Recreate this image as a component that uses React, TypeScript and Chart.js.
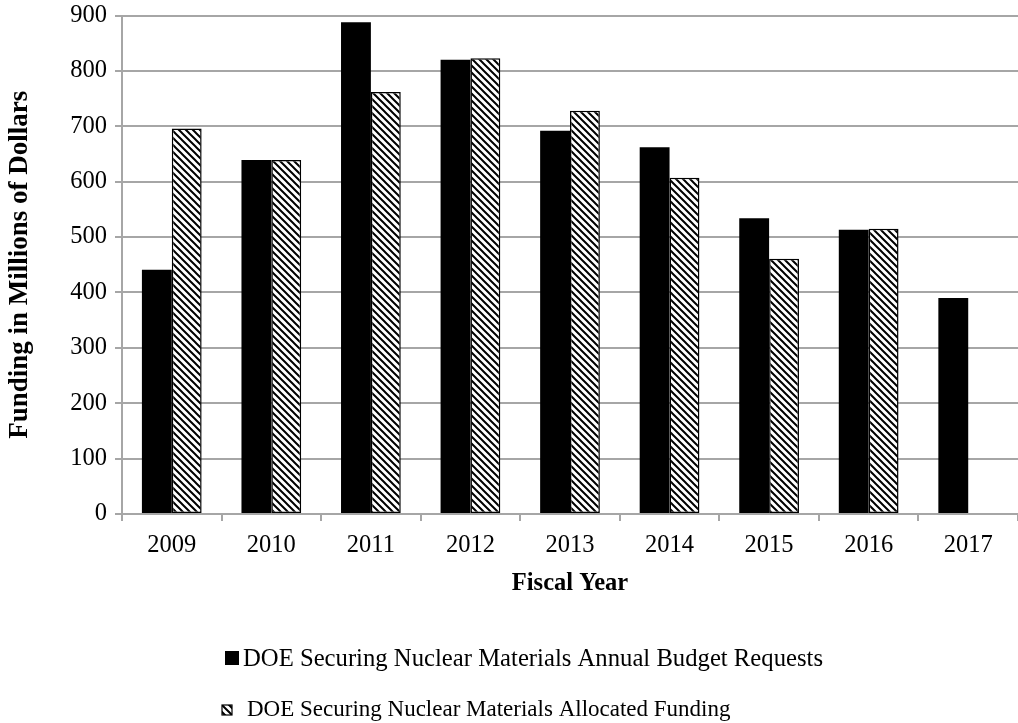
import React, { useEffect, useRef } from 'react';
import { Chart, registerables } from 'chart.js';

Chart.register(...registerables);

const years = ['2009', '2010', '2011', '2012', '2013', '2014', '2015', '2016', '2017'];
const budgetRequests = [441, 639, 888, 820, 692, 662, 534, 513, 390];
const allocatedFunding: (number | null)[] = [696, 639, 762, 823, 728, 607, 461, 515, null];
const requestsLabel = 'DOE Securing Nuclear Materials Annual Budget Requests';
const allocatedLabel = 'DOE Securing Nuclear Materials Allocated Funding';
const yMin = 0;
const yMax = 900;
const yStep = 100;

const SERIF = "'Liberation Serif', 'Times New Roman', serif";
const GRID = '#a6a6a6';

function makeHatch(): CanvasPattern | string {
  const p = 7;
  const c = document.createElement('canvas');
  c.width = p;
  c.height = p;
  const ctx = c.getContext('2d');
  if (!ctx) return '#888';
  ctx.fillStyle = '#fff';
  ctx.fillRect(0, 0, p, p);
  ctx.strokeStyle = '#000';
  ctx.lineWidth = 2;
  ctx.beginPath();
  ctx.moveTo(-1, -1);
  ctx.lineTo(p + 1, p + 1);
  ctx.moveTo(-1, p - 1);
  ctx.lineTo(1, p + 1);
  ctx.moveTo(p - 1, -1);
  ctx.lineTo(p + 1, 1);
  ctx.stroke();
  const pat = ctx.createPattern(c, 'repeat');
  return pat || '#888';
}

export default function App() {
  const ref = useRef<HTMLCanvasElement | null>(null);

  useEffect(() => {
    document.body.style.margin = '0';
    const canvas = ref.current;
    if (!canvas) return;
    const hatch = makeHatch();

    const legendPlugin = {
      id: 'customLegend',
      afterDraw(chart: any) {
        const ctx = chart.ctx as CanvasRenderingContext2D;
        const ds = chart.data.datasets;
        ctx.save();
        ctx.textBaseline = 'middle';
        ctx.textAlign = 'left';
        // row 1
        ctx.font = `24.7px ${SERIF}`;
        ctx.fillStyle = '#000';
        ctx.fillRect(225, 651, 14, 14);
        ctx.fillText(ds[0].label, 243, 660);
        // row 2
        ctx.fillStyle = hatch as any;
        ctx.fillRect(222, 705, 10, 10);
        ctx.strokeStyle = '#000';
        ctx.lineWidth = 1.2;
        ctx.strokeRect(222, 705, 10, 10);
        ctx.font = `23px ${SERIF}`;
        ctx.fillStyle = '#000';
        ctx.fillText(ds[1].label, 247, 710);
        ctx.restore();
      },
    };

    const chart = new Chart(canvas, {
      type: 'bar',
      data: {
        labels: years,
        datasets: [
          {
            label: requestsLabel,
            data: budgetRequests,
            backgroundColor: '#000',
            borderColor: '#000',
            borderWidth: 0,
            categoryPercentage: 0.6,
            barPercentage: 1.0,
          },
          {
            label: allocatedLabel,
            data: allocatedFunding,
            backgroundColor: hatch as any,
            borderColor: '#000',
            borderWidth: 1.5,
            borderSkipped: false,
            categoryPercentage: 0.6,
            barPercentage: 1.0,
          },
        ],
      },
      options: {
        responsive: false,
        animation: false,
        devicePixelRatio: 1,
        layout: { padding: { top: 15.5, left: 0, right: 0, bottom: 0 } },
        plugins: {
          legend: { display: false },
          tooltip: { enabled: false },
        },
        scales: {
          x: {
            grid: {
              display: true,
              offset: true,
              drawOnChartArea: false,
              drawTicks: true,
              tickLength: 7,
              color: GRID,
              lineWidth: 2,
            },
            border: { display: true, color: GRID, width: 2 },
            ticks: { color: '#000', font: { family: SERIF, size: 24.5 }, padding: 10 },
            title: {
              display: true,
              text: 'Fiscal Year',
              color: '#000',
              font: { family: SERIF, size: 24.5, weight: 'bold' },
              padding: { top: 0, bottom: 125 },
            },
            afterFit: (s: any) => {
              s.height = 209;
              s.paddingLeft = 0;
              s.paddingRight = 0;
            },
          },
          y: {
            min: yMin,
            max: yMax,
            ticks: {
              stepSize: yStep,
              color: '#000',
              font: { family: SERIF, size: 24.5 },
              padding: 8,
            },
            grid: {
              color: GRID,
              lineWidth: 2,
              drawTicks: true,
              tickLength: 7,
            },
            border: { display: true, color: GRID, width: 2 },
            title: {
              display: true,
              text: 'Funding in Millions of Dollars',
              color: '#000',
              font: { family: SERIF, size: 27, weight: 'bold' },
              padding: { top: 4, bottom: 0 },
            },
            afterFit: (s: any) => {
              s.width = 122;
              s.paddingTop = 0;
              s.paddingBottom = 0;
            },
          },
        },
      },
      plugins: [legendPlugin],
    });

    return () => {
      chart.destroy();
    };
  }, []);

  return (
    <div style={{ width: 1018, height: 723, position: 'relative', background: '#fff' }}>
      <canvas ref={ref} width={1018} height={723} />
    </div>
  );
}
